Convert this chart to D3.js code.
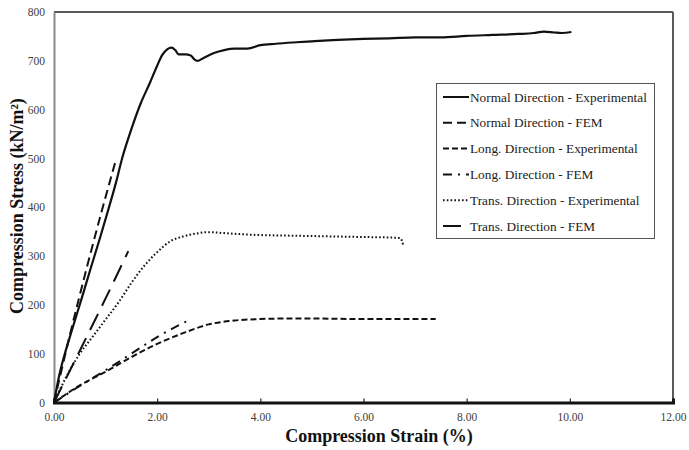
<!DOCTYPE html>
<html><head><meta charset="utf-8">
<script src="https://cdn.jsdelivr.net/npm/d3@7"></script>
<style>body{margin:0;background:#fff}svg{display:block}</style>
</head><body>
<svg id="c" width="689" height="450"></svg>
<script>
// ---- data ----
const xTicks = [0, 2, 4, 6, 8, 10, 12];
const yTicks = [0, 100, 200, 300, 400, 500, 600, 700, 800];
const seriesNames = [
  "Normal Direction - Experimental",
  "Normal Direction - FEM",
  "Long. Direction - Experimental",
  "Long. Direction - FEM",
  "Trans. Direction - Experimental",
  "Trans. Direction - FEM"
];
const normalExpStrain = [0,0.1,0.21,0.35,0.55,0.7,0.9,1.05,1.2,1.32,1.5,1.67,1.86,2.0,2.1,2.2,2.28,2.35,2.42,2.55,2.65,2.72,2.78,2.9,3.1,3.3,3.5,3.75,4.0,4.3,4.7,5.0,5.5,6.0,6.5,7.0,7.5,8.0,8.5,9.0,9.3,9.5,9.7,9.85,10.03];
const normalExpStress = [0,55,100,149,218,271,340,394,450,500,560,610,655,690,712,724,727,722,713,713,711,703,700,706,716,722,725,725,732,735,738,740,743,745,746,748,748,751,753,755,757,760,758,757,759];
const normalFemStrain = [0,0.3,0.64,0.93,1.2];
const normalFemStress = [0,135,278,394,497];
const longExpStrain = [0,0.5,1.0,1.5,2.0,2.5,3.0,3.5,4.0,4.5,5.0,6.0,7.0,7.4];
const longExpStress = [0,35,63,93,120,142,160,168,171,172,172,171,171,171];
const longFemStrain = [0,0.5,1.0,1.5,2.0,2.64];
const longFemStress = [0,34,66,100,134,170];
const transExpStrain = [0,0.25,0.5,0.75,1.0,1.25,1.5,1.75,2.0,2.25,2.5,2.75,3.0,3.3,3.6,4.0,4.5,5.0,5.5,6.0,6.5,6.7,6.75,6.77];
const transExpStress = [0,55,100,135,170,205,245,280,308,330,340,346,349,347,345,343,342,341,340,339,338,337,330,322];
const transFemStrain = [0,0.4,0.8,1.1,1.44];
const transFemStress = [0,85,170,235,310];

const seriesX = [normalExpStrain, normalFemStrain, longExpStrain, longFemStrain, transExpStrain, transFemStrain];
const seriesY = [normalExpStress, normalFemStress, longExpStress, longFemStress, transExpStress, transFemStress];
const dashes = [null, "9,5", "6,3", "9,6,2,6", "1.6,2.2", "18,9"];

// ---- layout ----
const svg = d3.select("#c");
const L = 54, R = 673, T = 12, B = 402.5;
const x = d3.scaleLinear().domain([0, 12]).range([L, R]);
const y = d3.scaleLinear().domain([0, 800]).range([B, T]);
const font = "'Liberation Serif','Times New Roman',serif";

// frame: top & right
svg.append("line").attr("x1", L).attr("x2", R).attr("y1", T).attr("y2", T).attr("stroke", "#5a5a5a").attr("stroke-width", 2);
svg.append("line").attr("x1", R).attr("x2", R).attr("y1", T).attr("y2", B).attr("stroke", "#5a5a5a").attr("stroke-width", 2);

// y axis
const yAxis = d3.axisLeft(y).tickValues(yTicks).tickFormat(d3.format("d")).tickSize(0).tickPadding(9);
const gy = svg.append("g").attr("transform", `translate(${L},0)`).call(yAxis);
gy.select(".domain").attr("stroke", "#8a8a8a").attr("stroke-width", 2);
gy.selectAll("text").attr("font-family", font).attr("font-size", 11.5).attr("fill", "#404040");

// x axis
const xAxis = d3.axisBottom(x).tickValues(xTicks).tickFormat(d3.format(".2f")).tickSize(-4).tickPadding(10);
const gx = svg.append("g").attr("transform", `translate(0,${B})`).call(xAxis);
gx.select(".domain").attr("stroke", "#111").attr("stroke-width", 3);
gx.selectAll(".tick line").attr("stroke", "#222").attr("stroke-width", 1.2);
gx.selectAll("text").attr("font-family", font).attr("font-size", 11.5).attr("fill", "#404040");

// titles
svg.append("text").attr("x", (283 + 475) / 2).attr("y", 442).attr("text-anchor", "middle")
  .attr("font-family", font).attr("font-weight", "bold").attr("font-size", 18).attr("fill", "#111")
  .text("Compression Strain (%)");
svg.append("text").attr("transform", `translate(23,${(97 + 315) / 2}) rotate(-90)`).attr("text-anchor", "middle")
  .attr("font-family", font).attr("font-weight", "bold").attr("font-size", 18).attr("fill", "#111")
  .text("Compression Stress (kN/m\u00B2)");

// series
const line = d3.line().x(d => x(d[0])).y(d => y(d[1])).curve(d3.curveMonotoneX);
seriesX.forEach((xs, i) => {
  const pts = xs.map((v, j) => [v, seriesY[i][j]]);
  const p = svg.append("path").datum(pts).attr("d", line)
    .attr("fill", "none").attr("stroke", "#111").attr("stroke-width", i === 0 ? 2.2 : 2);
  if (dashes[i]) p.attr("stroke-dasharray", dashes[i]);
});

// legend
const lg = svg.append("g");
lg.append("rect").attr("x", 436.5).attr("y", 83.5).attr("width", 218).attr("height", 155)
  .attr("fill", "#fff").attr("stroke", "#555").attr("stroke-width", 1);
seriesNames.forEach((name, i) => {
  const cy = 97 + i * 25.8;
  const s = lg.append("line").attr("x1", 443).attr("x2", 469).attr("y1", cy).attr("y2", cy)
    .attr("stroke", "#111").attr("stroke-width", 2);
  if (dashes[i]) s.attr("stroke-dasharray", dashes[i]);
  lg.append("text").attr("x", 470).attr("y", cy + 4.5).attr("font-family", font).attr("font-size", 13.3)
    .attr("fill", "#222").text(name);
});
</script>
</body></html>
